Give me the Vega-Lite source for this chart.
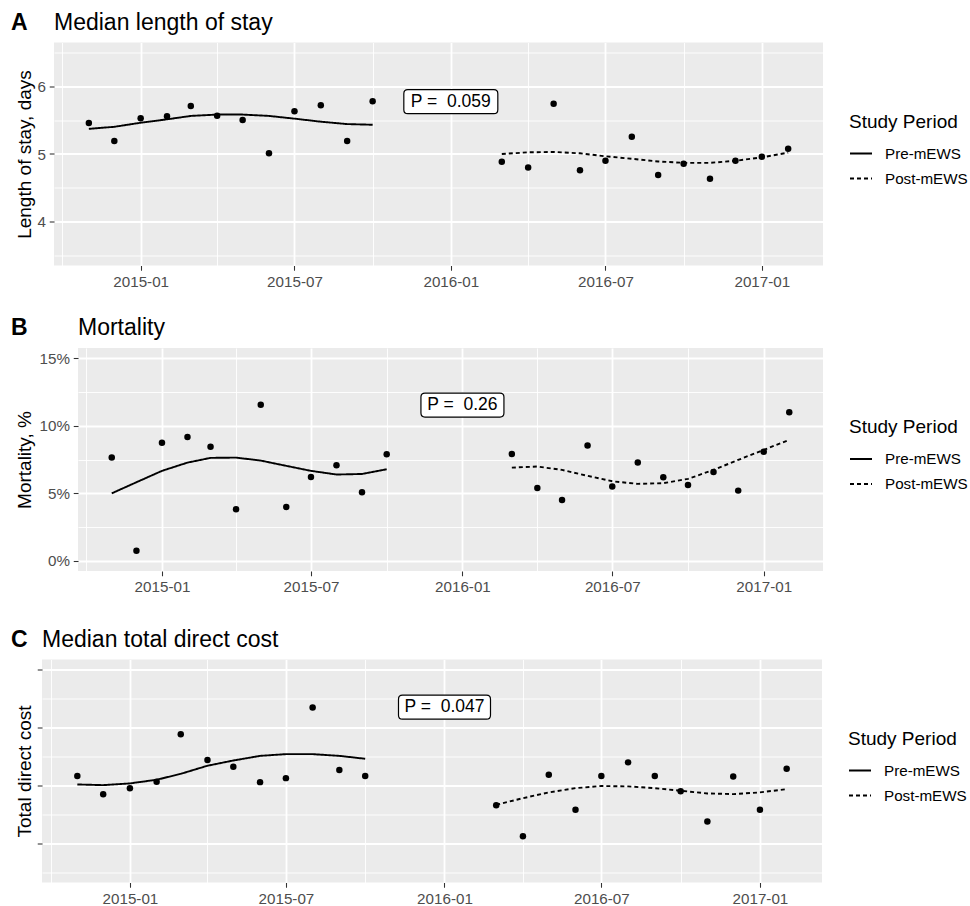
{
  "$schema": "https://vega.github.io/schema/vega-lite/v6.json",
  "padding": {"left": 11, "top": 11.5, "right": 0, "bottom": 0},
  "datasets": {
    "A": [
      {"date": "2014-11-01", "value": 5.456, "smooth": 5.37, "period": "Pre-mEWS"},
      {"date": "2014-12-01", "value": 5.19, "smooth": 5.40, "period": "Pre-mEWS"},
      {"date": "2015-01-01", "value": 5.525, "smooth": 5.46, "period": "Pre-mEWS"},
      {"date": "2015-02-01", "value": 5.554, "smooth": 5.51, "period": "Pre-mEWS"},
      {"date": "2015-03-01", "value": 5.706, "smooth": 5.56, "period": "Pre-mEWS"},
      {"date": "2015-04-01", "value": 5.564, "smooth": 5.58, "period": "Pre-mEWS"},
      {"date": "2015-05-01", "value": 5.50, "smooth": 5.58, "period": "Pre-mEWS"},
      {"date": "2015-06-01", "value": 5.01, "smooth": 5.56, "period": "Pre-mEWS"},
      {"date": "2015-07-01", "value": 5.628, "smooth": 5.52, "period": "Pre-mEWS"},
      {"date": "2015-08-01", "value": 5.716, "smooth": 5.475, "period": "Pre-mEWS"},
      {"date": "2015-09-01", "value": 5.19, "smooth": 5.44, "period": "Pre-mEWS"},
      {"date": "2015-10-01", "value": 5.775, "smooth": 5.43, "period": "Pre-mEWS"},
      {"date": "2016-03-01", "value": 4.887, "smooth": 5.00, "period": "Post-mEWS"},
      {"date": "2016-04-01", "value": 4.80, "smooth": 5.025, "period": "Post-mEWS"},
      {"date": "2016-05-01", "value": 5.74, "smooth": 5.03, "period": "Post-mEWS"},
      {"date": "2016-06-01", "value": 4.76, "smooth": 5.01, "period": "Post-mEWS"},
      {"date": "2016-07-01", "value": 4.90, "smooth": 4.966, "period": "Post-mEWS"},
      {"date": "2016-08-01", "value": 5.255, "smooth": 4.93, "period": "Post-mEWS"},
      {"date": "2016-09-01", "value": 4.69, "smooth": 4.89, "period": "Post-mEWS"},
      {"date": "2016-10-01", "value": 4.857, "smooth": 4.87, "period": "Post-mEWS"},
      {"date": "2016-11-01", "value": 4.637, "smooth": 4.87, "period": "Post-mEWS"},
      {"date": "2016-12-01", "value": 4.90, "smooth": 4.90, "period": "Post-mEWS"},
      {"date": "2017-01-01", "value": 4.96, "smooth": 4.95, "period": "Post-mEWS"},
      {"date": "2017-02-01", "value": 5.078, "smooth": 5.02, "period": "Post-mEWS"}
    ],
    "B": [
      {"date": "2014-11-01", "value": 0.0764, "smooth": 0.050, "period": "Pre-mEWS"},
      {"date": "2014-12-01", "value": 0.0076, "smooth": 0.0582, "period": "Pre-mEWS"},
      {"date": "2015-01-01", "value": 0.0873, "smooth": 0.0666, "period": "Pre-mEWS"},
      {"date": "2015-02-01", "value": 0.0917, "smooth": 0.0727, "period": "Pre-mEWS"},
      {"date": "2015-03-01", "value": 0.0845, "smooth": 0.0762, "period": "Pre-mEWS"},
      {"date": "2015-04-01", "value": 0.0382, "smooth": 0.0764, "period": "Pre-mEWS"},
      {"date": "2015-05-01", "value": 0.1154, "smooth": 0.0742, "period": "Pre-mEWS"},
      {"date": "2015-06-01", "value": 0.0399, "smooth": 0.0703, "period": "Pre-mEWS"},
      {"date": "2015-07-01", "value": 0.0621, "smooth": 0.0666, "period": "Pre-mEWS"},
      {"date": "2015-08-01", "value": 0.0708, "smooth": 0.0639, "period": "Pre-mEWS"},
      {"date": "2015-09-01", "value": 0.0508, "smooth": 0.0643, "period": "Pre-mEWS"},
      {"date": "2015-10-01", "value": 0.0789, "smooth": 0.0678, "period": "Pre-mEWS"},
      {"date": "2016-03-01", "value": 0.0791, "smooth": 0.0690, "period": "Post-mEWS"},
      {"date": "2016-04-01", "value": 0.0540, "smooth": 0.0698, "period": "Post-mEWS"},
      {"date": "2016-05-01", "value": 0.0451, "smooth": 0.0673, "period": "Post-mEWS"},
      {"date": "2016-06-01", "value": 0.0853, "smooth": 0.0629, "period": "Post-mEWS"},
      {"date": "2016-07-01", "value": 0.0550, "smooth": 0.0589, "period": "Post-mEWS"},
      {"date": "2016-08-01", "value": 0.0727, "smooth": 0.0570, "period": "Post-mEWS"},
      {"date": "2016-09-01", "value": 0.0619, "smooth": 0.0575, "period": "Post-mEWS"},
      {"date": "2016-10-01", "value": 0.0562, "smooth": 0.0607, "period": "Post-mEWS"},
      {"date": "2016-11-01", "value": 0.0658, "smooth": 0.0673, "period": "Post-mEWS"},
      {"date": "2016-12-01", "value": 0.0520, "smooth": 0.0747, "period": "Post-mEWS"},
      {"date": "2017-01-01", "value": 0.0808, "smooth": 0.0821, "period": "Post-mEWS"},
      {"date": "2017-02-01", "value": 0.1100, "smooth": 0.0895, "period": "Post-mEWS"}
    ],
    "C": [
      {"date": "2014-11-01", "value": 2.161, "smooth": 2.017, "period": "Pre-mEWS"},
      {"date": "2014-12-01", "value": 1.849, "smooth": 2.005, "period": "Pre-mEWS"},
      {"date": "2015-01-01", "value": 1.953, "smooth": 2.035, "period": "Pre-mEWS"},
      {"date": "2015-02-01", "value": 2.064, "smooth": 2.098, "period": "Pre-mEWS"},
      {"date": "2015-03-01", "value": 2.882, "smooth": 2.20, "period": "Pre-mEWS"},
      {"date": "2015-04-01", "value": 2.438, "smooth": 2.34, "period": "Pre-mEWS"},
      {"date": "2015-05-01", "value": 2.324, "smooth": 2.43, "period": "Pre-mEWS"},
      {"date": "2015-06-01", "value": 2.057, "smooth": 2.51, "period": "Pre-mEWS"},
      {"date": "2015-07-01", "value": 2.126, "smooth": 2.54, "period": "Pre-mEWS"},
      {"date": "2015-08-01", "value": 3.344, "smooth": 2.54, "period": "Pre-mEWS"},
      {"date": "2015-09-01", "value": 2.265, "smooth": 2.51, "period": "Pre-mEWS"},
      {"date": "2015-10-01", "value": 2.161, "smooth": 2.46, "period": "Pre-mEWS"},
      {"date": "2016-03-01", "value": 1.659, "smooth": 1.666, "period": "Post-mEWS"},
      {"date": "2016-04-01", "value": 1.123, "smooth": 1.78, "period": "Post-mEWS"},
      {"date": "2016-05-01", "value": 2.185, "smooth": 1.88, "period": "Post-mEWS"},
      {"date": "2016-06-01", "value": 1.580, "smooth": 1.953, "period": "Post-mEWS"},
      {"date": "2016-07-01", "value": 2.161, "smooth": 1.99, "period": "Post-mEWS"},
      {"date": "2016-08-01", "value": 2.398, "smooth": 1.983, "period": "Post-mEWS"},
      {"date": "2016-09-01", "value": 2.161, "smooth": 1.953, "period": "Post-mEWS"},
      {"date": "2016-10-01", "value": 1.901, "smooth": 1.908, "period": "Post-mEWS"},
      {"date": "2016-11-01", "value": 1.377, "smooth": 1.862, "period": "Post-mEWS"},
      {"date": "2016-12-01", "value": 2.156, "smooth": 1.85, "period": "Post-mEWS"},
      {"date": "2017-01-01", "value": 1.580, "smooth": 1.88, "period": "Post-mEWS"},
      {"date": "2017-02-01", "value": 2.289, "smooth": 1.936, "period": "Post-mEWS"}
    ],
    "labA": [{"date": "2016-01-01", "value": 5.77, "label": "P =\u00a0 0.059"}],
    "labB": [{"date": "2016-01-01", "value": 0.1152, "label": "P =\u00a0 0.26"}],
    "labC": [{"date": "2016-01-01", "value": 3.35, "label": "P =\u00a0 0.047"}]
  },
  "config": {
    "font": "Liberation Sans",
    "view": {"stroke": null},
    "title": {"fontSize": 23, "fontWeight": "normal", "color": "black", "anchor": "start", "frame": "group", "offset": 8},
    "axis": {"domain": false, "gridColor": "white", "gridWidth": 1.8, "gridOpacity": 1, "tickColor": "#333333", "tickSize": 4.75, "tickWidth": 1.07, "labelColor": "#4D4D4D", "labelFontSize": 15.2, "labelPadding": 3.8, "titleFontSize": 19, "titleFontWeight": "normal", "titleColor": "black", "titlePadding": 4.75, "labelAngle": 0},
    "legend": {"titleFontSize": 19, "titleFontWeight": "normal", "titleColor": "black", "labelFontSize": 15.2, "labelColor": "black", "symbolSize": 484, "symbolStrokeColor": "black", "symbolStrokeWidth": 1.8, "symbolType": "stroke", "labelOffset": 12, "rowPadding": 4, "titlePadding": 10, "padding": 0}
  },
  "spacing": 27.5,
  "resolve": {"scale": {"strokeDash": "independent"}, "legend": {"strokeDash": "independent"}},
  "vconcat": [
    {
      "spacing": -13,
      "resolve": {"scale": {"strokeDash": "independent"}, "legend": {"strokeDash": "independent"}},
      "hconcat": [
        {"width": 1, "height": 223, "title": {"text": "A", "fontWeight": "bold"}, "data": {"values": []}, "mark": "point", "view": {"fill": null, "stroke": null}},
        {
          "width": 769, "height": 223,
          "title": {"text": "Median length of stay"},
          "view": {"fill": "#EBEBEB", "stroke": null},
          "data": {"name": "A"},
          "resolve": {"axis": {"x": "independent", "y": "independent"}},
          "layer": [
            {
              "mark": {"type": "point", "filled": true, "color": "black", "opacity": 1, "size": 42},
              "encoding": {
                "x": {"field": "date", "type": "temporal", "scale": {"type": "utc", "domain": [{"year": 2014, "month": 9, "date": 21, "utc": true}, {"year": 2017, "month": 3, "date": 14, "utc": true}]}, "axis": {"title": null, "format": "%Y-%m", "grid": true, "values": [{"year": 2015, "month": 1, "date": 1, "utc": true}, {"year": 2015, "month": 7, "date": 1, "utc": true}, {"year": 2016, "month": 1, "date": 1, "utc": true}, {"year": 2016, "month": 7, "date": 1, "utc": true}, {"year": 2017, "month": 1, "date": 1, "utc": true}]}},
                "y": {"field": "value", "type": "quantitative", "scale": {"domain": [3.36, 6.64], "nice": false, "zero": false}, "axis": {"title": "Length of stay, days", "titlePadding": 2.75, "values": [4, 5, 6], "grid": true}}
              }
            },
            {
              "mark": {"type": "line", "color": "black", "strokeWidth": 1.9},
              "encoding": {
                "x": {"field": "date", "type": "temporal", "axis": {"orient": "bottom", "title": null, "labels": false, "ticks": false, "grid": true, "gridWidth": 0.9, "values": [{"year": 2014, "month": 10, "date": 1, "utc": true}, {"year": 2015, "month": 4, "date": 1, "utc": true}, {"year": 2015, "month": 10, "date": 1, "utc": true}, {"year": 2016, "month": 4, "date": 1, "utc": true}, {"year": 2016, "month": 10, "date": 1, "utc": true}]}},
                "y": {"field": "smooth", "type": "quantitative", "axis": {"orient": "left", "title": null, "labels": false, "ticks": false, "grid": true, "gridWidth": 0.9, "values": [3.5, 4.5, 5.5, 6.5]}},
                "strokeDash": {"field": "period", "type": "nominal", "scale": {"domain": ["Pre-mEWS", "Post-mEWS"], "range": [[1, 0], [4, 3]]}, "legend": {"title": "Study Period", "orient": "none", "legendX": 795, "legendY": 70}}
              }
            },
            {
              "data": {"name": "labA"},
              "mark": {"type": "point", "shape": "M -0.9149 -0.2553 L 0.9149 -0.2553 Q 1 -0.2553 1 -0.1702 L 1 0.1702 Q 1 0.2553 0.9149 0.2553 L -0.9149 0.2553 Q -1 0.2553 -1 0.1702 L -1 -0.1702 Q -1 -0.2553 -0.9149 -0.2553 Z", "size": 8836, "filled": true, "fill": "white", "stroke": "black", "strokeWidth": 1.2, "opacity": 1},
              "encoding": {
                "x": {"field": "date", "type": "temporal", "axis": null},
                "y": {"field": "value", "type": "quantitative", "axis": null}
              }
            },
            {
              "data": {"name": "labA"},
              "mark": {"type": "text", "fontSize": 17.5, "color": "black", "align": "center", "baseline": "middle"},
              "encoding": {
                "x": {"field": "date", "type": "temporal", "axis": null},
                "y": {"field": "value", "type": "quantitative", "axis": null},
                "text": {"field": "label"}
              }
            }
          ]
        }
      ]
    },
    {
      "spacing": -13,
      "resolve": {"scale": {"strokeDash": "independent"}, "legend": {"strokeDash": "independent"}},
      "hconcat": [
        {"width": 1, "height": 253, "title": {"text": "B", "fontWeight": "bold"}, "data": {"values": []}, "mark": "point", "view": {"fill": null, "stroke": null}},
        {
          "width": 745, "height": 223,
          "title": {"text": "Mortality"},
          "view": {"fill": "#EBEBEB", "stroke": null},
          "data": {"name": "B"},
          "resolve": {"axis": {"x": "independent", "y": "independent"}},
          "layer": [
            {
              "mark": {"type": "point", "filled": true, "color": "black", "opacity": 1, "size": 42},
              "encoding": {
                "x": {"field": "date", "type": "temporal", "scale": {"type": "utc", "domain": [{"year": 2014, "month": 9, "date": 21, "utc": true}, {"year": 2017, "month": 3, "date": 14, "utc": true}]}, "axis": {"title": null, "format": "%Y-%m", "grid": true, "values": [{"year": 2015, "month": 1, "date": 1, "utc": true}, {"year": 2015, "month": 7, "date": 1, "utc": true}, {"year": 2016, "month": 1, "date": 1, "utc": true}, {"year": 2016, "month": 7, "date": 1, "utc": true}, {"year": 2017, "month": 1, "date": 1, "utc": true}]}},
                "y": {"field": "value", "type": "quantitative", "scale": {"domain": [-0.0074, 0.1574], "nice": false, "zero": false}, "axis": {"title": "Mortality, %", "format": ".0%", "values": [0, 0.05, 0.1, 0.15], "grid": true}}
              }
            },
            {
              "mark": {"type": "line", "color": "black", "strokeWidth": 1.9},
              "encoding": {
                "x": {"field": "date", "type": "temporal", "axis": {"orient": "bottom", "title": null, "labels": false, "ticks": false, "grid": true, "gridWidth": 0.9, "values": [{"year": 2014, "month": 10, "date": 1, "utc": true}, {"year": 2015, "month": 4, "date": 1, "utc": true}, {"year": 2015, "month": 10, "date": 1, "utc": true}, {"year": 2016, "month": 4, "date": 1, "utc": true}, {"year": 2016, "month": 10, "date": 1, "utc": true}]}},
                "y": {"field": "smooth", "type": "quantitative", "axis": {"orient": "left", "title": null, "labels": false, "ticks": false, "grid": true, "gridWidth": 0.9, "values": [0.025, 0.075, 0.125]}},
                "strokeDash": {"field": "period", "type": "nominal", "scale": {"domain": ["Pre-mEWS", "Post-mEWS"], "range": [[1, 0], [4, 3]]}, "legend": {"title": "Study Period", "orient": "none", "legendX": 771, "legendY": 70}}
              }
            },
            {
              "data": {"name": "labB"},
              "mark": {"type": "point", "shape": "M -0.9036 -0.2892 L 0.9036 -0.2892 Q 1 -0.2892 1 -0.1928 L 1 0.1928 Q 1 0.2892 0.9036 0.2892 L -0.9036 0.2892 Q -1 0.2892 -1 0.1928 L -1 -0.1928 Q -1 -0.2892 -0.9036 -0.2892 Z", "size": 6889, "filled": true, "fill": "white", "stroke": "black", "strokeWidth": 1.2, "opacity": 1},
              "encoding": {
                "x": {"field": "date", "type": "temporal", "axis": null},
                "y": {"field": "value", "type": "quantitative", "axis": null}
              }
            },
            {
              "data": {"name": "labB"},
              "mark": {"type": "text", "fontSize": 17.5, "color": "black", "align": "center", "baseline": "middle"},
              "encoding": {
                "x": {"field": "date", "type": "temporal", "axis": null},
                "y": {"field": "value", "type": "quantitative", "axis": null},
                "text": {"field": "label"}
              }
            }
          ]
        }
      ]
    },
    {
      "spacing": -13,
      "resolve": {"scale": {"strokeDash": "independent"}, "legend": {"strokeDash": "independent"}},
      "hconcat": [
        {"width": 1, "height": 223, "title": {"text": "C", "fontWeight": "bold"}, "data": {"values": []}, "mark": "point", "view": {"fill": null, "stroke": null}},
        {
          "width": 780, "height": 223,
          "title": {"text": "Median total direct cost"},
          "view": {"fill": "#EBEBEB", "stroke": null},
          "data": {"name": "C"},
          "resolve": {"axis": {"x": "independent", "y": "independent"}},
          "layer": [
            {
              "mark": {"type": "point", "filled": true, "color": "black", "opacity": 1, "size": 42},
              "encoding": {
                "x": {"field": "date", "type": "temporal", "scale": {"type": "utc", "domain": [{"year": 2014, "month": 9, "date": 21, "utc": true}, {"year": 2017, "month": 3, "date": 14, "utc": true}]}, "axis": {"title": null, "format": "%Y-%m", "grid": true, "values": [{"year": 2015, "month": 1, "date": 1, "utc": true}, {"year": 2015, "month": 7, "date": 1, "utc": true}, {"year": 2016, "month": 1, "date": 1, "utc": true}, {"year": 2016, "month": 7, "date": 1, "utc": true}, {"year": 2017, "month": 1, "date": 1, "utc": true}]}},
                "y": {"field": "value", "type": "quantitative", "scale": {"domain": [0.325, 4.173], "nice": false, "zero": false}, "axis": {"title": "Total direct cost", "labels": false, "titlePadding": 2, "values": [1, 2, 3, 4], "grid": true}}
              }
            },
            {
              "mark": {"type": "line", "color": "black", "strokeWidth": 1.9},
              "encoding": {
                "x": {"field": "date", "type": "temporal", "axis": {"orient": "bottom", "title": null, "labels": false, "ticks": false, "grid": true, "gridWidth": 0.9, "values": [{"year": 2014, "month": 10, "date": 1, "utc": true}, {"year": 2015, "month": 4, "date": 1, "utc": true}, {"year": 2015, "month": 10, "date": 1, "utc": true}, {"year": 2016, "month": 4, "date": 1, "utc": true}, {"year": 2016, "month": 10, "date": 1, "utc": true}]}},
                "y": {"field": "smooth", "type": "quantitative", "axis": {"orient": "left", "title": null, "labels": false, "ticks": false, "grid": true, "gridWidth": 0.9, "values": [0.5, 1.5, 2.5, 3.5]}},
                "strokeDash": {"field": "period", "type": "nominal", "scale": {"domain": ["Pre-mEWS", "Post-mEWS"], "range": [[1, 0], [4, 3]]}, "legend": {"title": "Study Period", "orient": "none", "legendX": 806, "legendY": 70}}
              }
            },
            {
              "data": {"name": "labC"},
              "mark": {"type": "point", "shape": "M -0.913 -0.2609 L 0.913 -0.2609 Q 1 -0.2609 1 -0.1739 L 1 0.1739 Q 1 0.2609 0.913 0.2609 L -0.913 0.2609 Q -1 0.2609 -1 0.1739 L -1 -0.1739 Q -1 -0.2609 -0.913 -0.2609 Z", "size": 8464, "filled": true, "fill": "white", "stroke": "black", "strokeWidth": 1.2, "opacity": 1},
              "encoding": {
                "x": {"field": "date", "type": "temporal", "axis": null},
                "y": {"field": "value", "type": "quantitative", "axis": null}
              }
            },
            {
              "data": {"name": "labC"},
              "mark": {"type": "text", "fontSize": 17.5, "color": "black", "align": "center", "baseline": "middle"},
              "encoding": {
                "x": {"field": "date", "type": "temporal", "axis": null},
                "y": {"field": "value", "type": "quantitative", "axis": null},
                "text": {"field": "label"}
              }
            }
          ]
        }
      ]
    }
  ]
}
